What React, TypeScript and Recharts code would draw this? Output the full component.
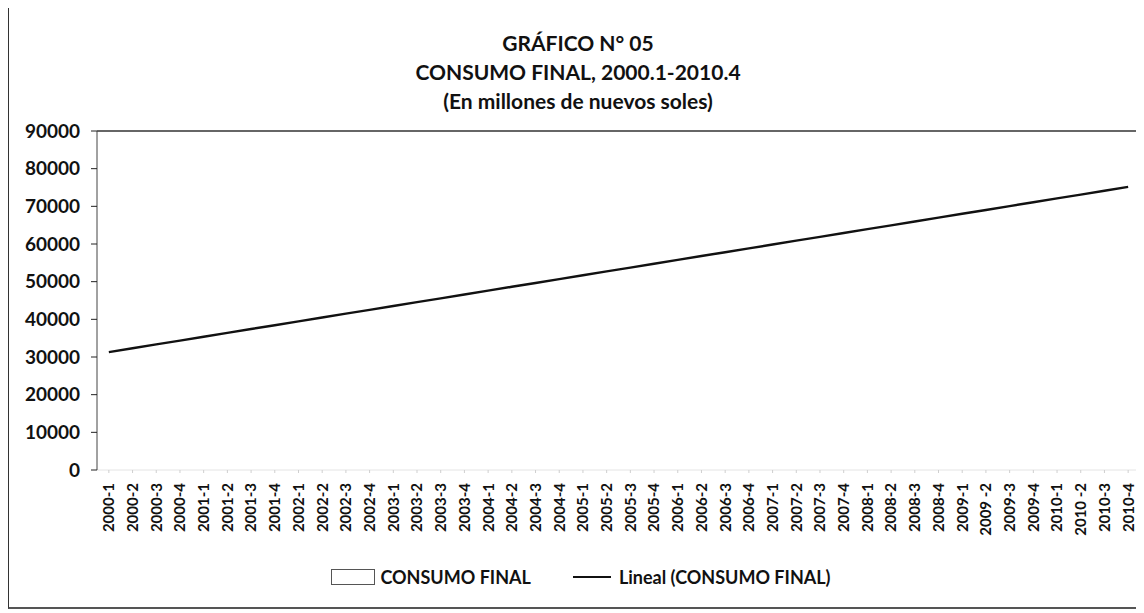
import { ComposedChart, Bar, Line, XAxis, YAxis, ReferenceLine, Legend } from "recharts";

const quarters = [
  "2000-1", "2000-2", "2000-3", "2000-4",
  "2001-1", "2001-2", "2001-3", "2001-4",
  "2002-1", "2002-2", "2002-3", "2002-4",
  "2003-1", "2003-2", "2003-3", "2003-4",
  "2004-1", "2004-2", "2004-3", "2004-4",
  "2005-1", "2005-2", "2005-3", "2005-4",
  "2006-1", "2006-2", "2006-3", "2006-4",
  "2007-1", "2007-2", "2007-3", "2007-4",
  "2008-1", "2008-2", "2008-3", "2008-4",
  "2009-1", "2009 -2", "2009-3", "2009-4",
  "2010-1", "2010 -2", "2010-3", "2010-4",
];

// linear trend
const lineal = [
  31300, 32320, 33340, 34360, 35380, 36400, 37420, 38440, 39460, 40480, 41500,
  42520, 43540, 44560, 45580, 46600, 47620, 48640, 49660, 50680, 51700, 52720,
  53740, 54760, 55780, 56800, 57820, 58840, 59860, 60880, 61900, 62920, 63940,
  64960, 65980, 67000, 68020, 69040, 70060, 71080, 72100, 73120, 74140, 75160,
];

// the series bars are white in the original, so they can't be read; trend used
const consumo = lineal;

const yTicks = [0, 10000, 20000, 30000, 40000, 50000, 60000, 70000, 80000, 90000];

const titleLines = [
  "GRÁFICO N° 05",
  "CONSUMO FINAL, 2000.1-2010.4",
  "(En millones de nuevos soles)",
];

const data = quarters.map((q, i) => ({ q, consumo: consumo[i], lineal: lineal[i] }));

const FONT = "Lato, 'Open Sans', sans-serif";

function QuarterTick({ x, y, payload }: any) {
  return (
    <text
      x={x}
      y={y + 8}
      transform={`rotate(-90, ${x}, ${y + 8})`}
      textAnchor="end"
      dy="0.36em"
      fill="#111"
      fontSize={15}
      fontWeight={700}
      fontFamily={FONT}
    >
      {payload.value}
    </text>
  );
}

function LegendBox() {
  return (
    <div
      style={{
        height: 30,
        display: "flex",
        alignItems: "center",
        justifyContent: "center",
        fontFamily: FONT,
        fontWeight: 700,
        fontSize: 18,
        color: "#111",
        paddingLeft: 14,
      }}
    >
      <span
        style={{
          display: "inline-block",
          width: 42,
          height: 14,
          border: "1px solid #555",
          marginRight: 5,
        }}
      />
      <span>CONSUMO FINAL</span>
      <span
        style={{
          display: "inline-block",
          width: 38,
          height: 2,
          background: "#111",
          marginLeft: 42,
          marginRight: 8,
        }}
      />
      <span>Lineal (CONSUMO FINAL)</span>
    </div>
  );
}

export default function App() {
  return (
    <div style={{ position: "relative", width: 1136, height: 605, background: "#fff" }}>
      <div
        style={{
          position: "absolute",
          left: 0,
          top: -2,
          width: 1140,
          height: 603,
          borderLeft: "1px solid #333",
          borderTop: "2px solid #333",
          borderBottom: "2px solid #555",
          boxSizing: "border-box",
          pointerEvents: "none",
        }}
      />
      <div
        style={{
          position: "absolute",
          left: 0,
          top: 20,
          width: 1140,
          textAlign: "center",
          fontFamily: FONT,
          fontWeight: 700,
          fontSize: 21,
          lineHeight: "29px",
          color: "#111",
        }}
      >
        {titleLines.map((t) => (
          <div key={t}>{t}</div>
        ))}
      </div>
      <ComposedChart
        width={1136}
        height={605}
        data={data}
        margin={{ top: 123, right: 4, left: 0, bottom: 21 }}
        barCategoryGap="30%"
      >
        <XAxis
          dataKey="q"
          interval={0}
          height={92}
          tick={<QuarterTick />}
          axisLine={{ stroke: "#e4e4e4" }}
          tickLine={{ stroke: "#cfcfcf" }}
          tickSize={3}
        />
        <YAxis
          width={89}
          domain={[0, 90000]}
          ticks={yTicks}
          interval={0}
          axisLine={{ stroke: "#444" }}
          tickLine={{ stroke: "#222" }}
          tickSize={6}
          tickMargin={11}
          tick={{ fill: "#111", fontSize: 19, fontWeight: 700, fontFamily: FONT }}
        />
        <ReferenceLine y={90000} stroke="#333" strokeWidth={1.5} />
        <Legend verticalAlign="bottom" content={<LegendBox />} />
        <Bar dataKey="consumo" fill="#ffffff" isAnimationActive={false} />
        <Line
          dataKey="lineal"
          type="linear"
          stroke="#111"
          strokeWidth={2.4}
          dot={false}
          isAnimationActive={false}
        />
      </ComposedChart>
    </div>
  );
}
